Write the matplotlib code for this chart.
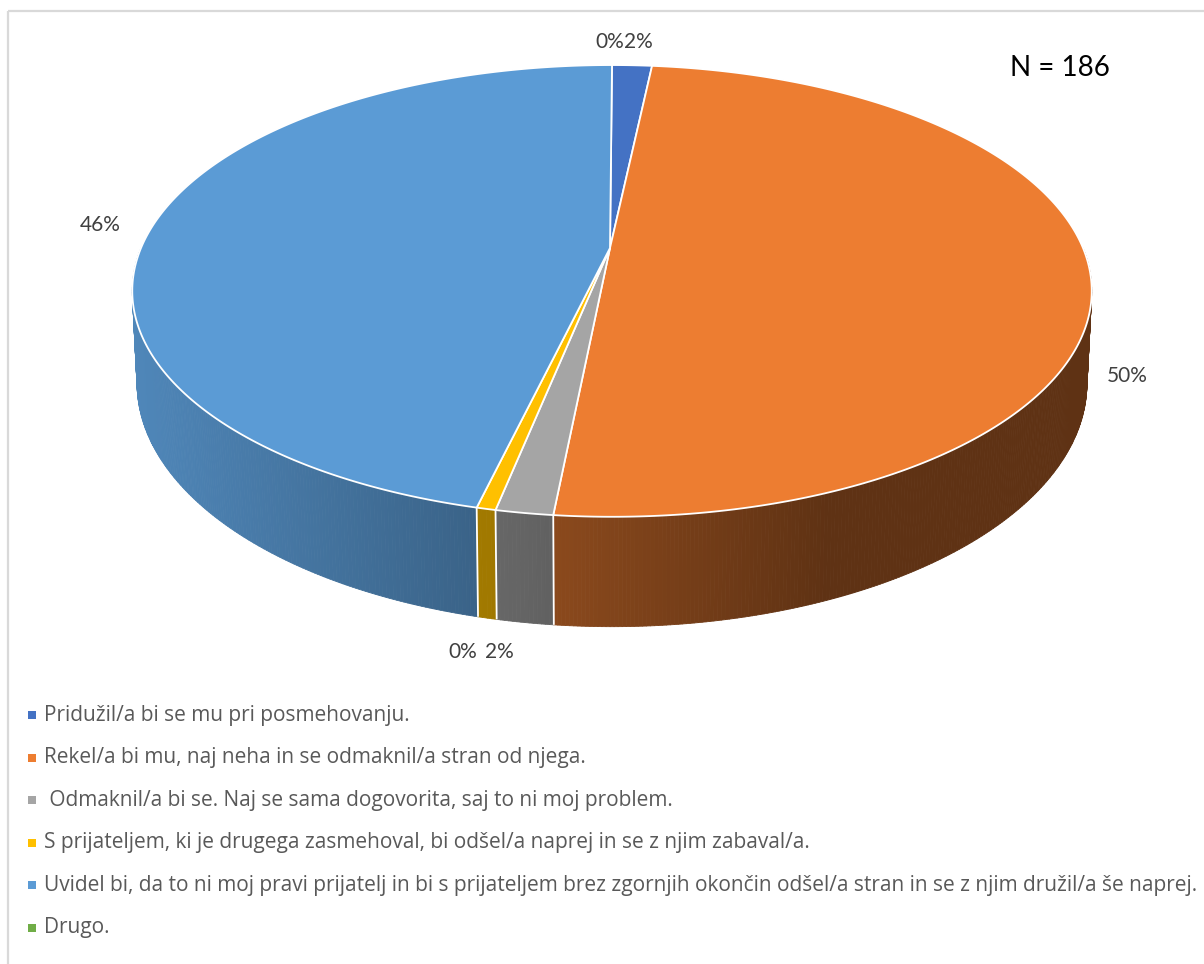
import numpy as np
import matplotlib
matplotlib.use("Agg")
import matplotlib.pyplot as plt
from matplotlib.collections import PolyCollection
from matplotlib.patches import Rectangle

# ---------------- data ----------------
categories = [
    "Pridužil/a bi se mu pri posmehovanju.",
    "Rekel/a bi mu, naj neha in se odmaknil/a stran od njega.",
    " Odmaknil/a bi se. Naj se sama dogovorita, saj to ni moj problem.",
    "S prijateljem, ki je drugega zasmehoval, bi odšel/a naprej in se z njim zabaval/a.",
    "Uvidel bi, da to ni moj pravi prijatelj in bi s prijateljem brez zgornjih okončin odšel/a stran in se z njim družil/a še naprej.",
    "Drugo.",
]
counts = [3, 93, 3, 1, 86, 0]
pct_labels = ["2%", "50%", "2%", "0%", "46%", "0%"]
colors = ["#4472C4", "#ED7D31", "#A5A5A5", "#FFC000", "#5B9BD5", "#70AD47"]
n_text = "N = 186"

# ---------------- geometry (pixel space) ----------------
W, H = 1204, 964
FONT = "Lato"
LEG_FONT = "Open Sans"
cx = 612.0          # horizontal centre of the pie
apex_y = 248.0      # projected centre of the pie
R = 471.0           # radius scale
c_p = 0.19          # perspective strength
b_p = -170.6        # vertical scale of the top face
depth = 89.0        # side height (perspective-scaled)


def top_pt(th):
    v = np.cos(th)
    d = 1 + c_p * v
    return cx + R * np.sin(th) / d, (apex_y + b_p * v) / d


def bot_pt(th):
    v = np.cos(th)
    d = 1 + c_p * v
    x, y = top_pt(th)
    return cx + (x - cx) * 0.99, y + depth / d


def shade(th):
    x, _ = top_pt(th)
    u = (x - cx) / (R * 1.0186)
    return float(np.clip(0.87 - 0.324 * (u + 1), 0.40, 1.0))


def darken(col, f):
    rgb = np.array(matplotlib.colors.to_rgb(col))
    return tuple(rgb * f)


fig = plt.figure(figsize=(W / 100, H / 100), dpi=100)
ax = fig.add_axes([0, 0, 1, 1])
ax.set_xlim(0, W)
ax.set_ylim(H, 0)
ax.axis("off")

# chart frame
ax.add_patch(Rectangle((8, 11), 1300, 1000, fill=False, edgecolor="#D9D9D9", lw=1.6))

total = float(sum(counts))
fracs = np.array(counts) / total
bounds = np.concatenate([[0], np.cumsum(fracs)]) * 2 * np.pi

# ---- side walls ----
polys, fcols, order = [], [], []
for i, col in enumerate(colors):
    t0, t1 = bounds[i], bounds[i + 1]
    lo, hi = max(t0, np.pi / 2), min(t1, 3 * np.pi / 2)
    if hi <= lo:
        continue
    n = max(2, int(np.degrees(hi - lo) / 0.4))
    ts = np.linspace(lo, hi, n + 1)
    for a, b in zip(ts[:-1], ts[1:]):
        p = [top_pt(a), top_pt(b), bot_pt(b), bot_pt(a)]
        polys.append(p)
        fcols.append(darken(col, shade((a + b) / 2)))
        order.append(-np.cos((a + b) / 2))
idx = np.argsort(order)
pc = PolyCollection([polys[k] for k in idx], facecolors=[fcols[k] for k in idx],
                    edgecolors=[fcols[k] for k in idx], linewidths=0.6)
ax.add_collection(pc)

# white separators on side
for t in bounds[1:-1]:
    if np.pi / 2 < t < 3 * np.pi / 2:
        x0, y0 = top_pt(t)
        x1, y1 = bot_pt(t)
        ax.plot([x0, x1], [y0, y1], color="white", lw=1.3, solid_capstyle="butt")

# ---- top face ----
for i, col in enumerate(colors):
    t0, t1 = bounds[i], bounds[i + 1]
    if t1 - t0 <= 0:
        continue
    ts = np.linspace(t0, t1, max(3, int(np.degrees(t1 - t0) / 0.5)))
    pts = [top_pt(t) for t in ts]
    xs = [cx - 2] + [p[0] for p in pts] + [cx - 2]
    ys = [apex_y] + [p[1] for p in pts] + [apex_y]
    ax.fill(xs, ys, facecolor=col, edgecolor="white", lw=1.3, joinstyle="round")

# ---- percentage labels ----
label_offsets = [(6, -23), (37, 106), (-25, 139), (-23, 143), (-54, 2), (-2, -23)]
for i, (lab, (dx, dy)) in enumerate(zip(pct_labels, label_offsets)):
    tm = (bounds[i] + bounds[i + 1]) / 2
    x, y = top_pt(tm)
    ax.text(x + dx, y + dy, lab, ha="center", va="center", fontsize=15,
            color="#404040", family=FONT)

ax.text(1060, 68, n_text, ha="center", va="center", fontsize=20, color="black", family=FONT)

# ---- legend ----
leg_y0, leg_dy = 715, 42.6
for i, (cat, col) in enumerate(zip(categories, colors)):
    y = leg_y0 + i * leg_dy
    ax.scatter([32], [y], marker="s", s=30, color=col, linewidths=0)
    ax.text(44, y, cat, ha="left", va="center", fontsize=15, color="#595959", family=LEG_FONT)

fig.savefig("out.png", dpi=100)
